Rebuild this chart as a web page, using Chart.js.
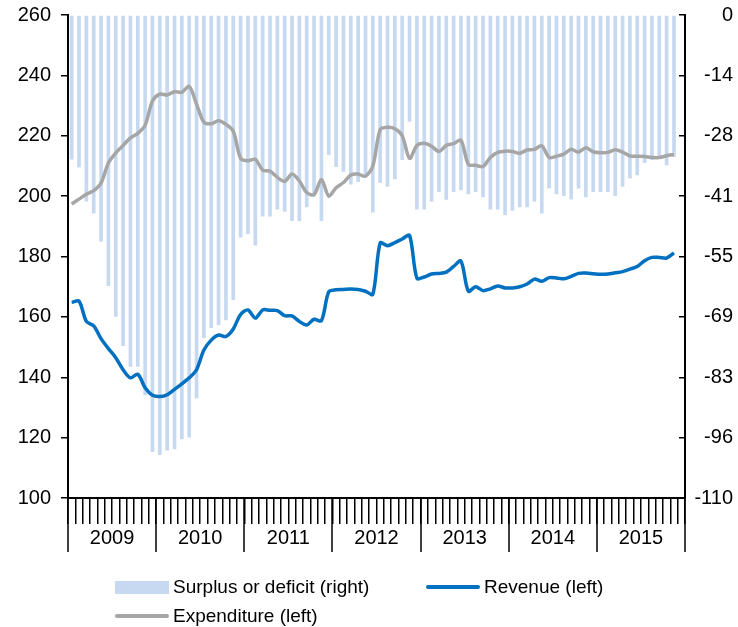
<!DOCTYPE html>
<html>
<head>
<meta charset="utf-8">
<title>Revenue, expenditure and balance</title>
<script src="https://cdn.jsdelivr.net/npm/chart.js@4.4.1/dist/chart.umd.min.js"></script>
<style>
  body { margin: 0; background: #fff; }
  #wrap { position: relative; width: 738px; height: 627px; }
  #legend { position: absolute; left: 0; top: 0; font: 19px Arial, "Liberation Sans", sans-serif; color: #000; }
  #legend .item { position: absolute; height: 24px; display: flex; align-items: center; white-space: nowrap; }
  #legend .swatch { width: 54px; margin-right: 4px; }
</style>
</head>
<body>
<div id="wrap">
  <canvas id="chart" width="738" height="627"></canvas>
  <div id="legend"></div>
</div>
<script>
// ---------------- DATA ----------------

const years = ['2009', '2010', '2011', '2012', '2013', '2014', '2015'];
const monthNames = ['Jan', 'Feb', 'Mar', 'Apr', 'May', 'Jun', 'Jul', 'Aug', 'Sep', 'Oct', 'Nov', 'Dec'];

// monthly, Jan 2009 - Nov 2015
const revenue = [
  164.8, 165.2, 158.5, 157.0, 152.8, 149.5, 146.5, 142.5, 139.8, 141.0, 136.5, 134.0,
  133.6, 134.2, 136.0, 137.8, 139.8, 142.5, 149.0, 152.3, 154.0, 153.5, 156.0, 160.8,
  162.3, 159.6, 162.3, 162.2, 162.1, 160.4, 160.3, 158.5, 157.3, 159.2, 158.7, 168.3,
  169.0, 169.1, 169.2, 169.1, 168.5, 167.5, 184.5, 183.6, 184.6, 185.8, 187.0, 172.8,
  173.2, 174.2, 174.4, 174.8, 176.7, 178.5, 168.5, 170.0, 168.7, 169.3, 170.2, 169.6,
  169.6, 170.0, 170.9, 172.5, 171.8, 173.0, 172.9, 172.6, 173.4, 174.4, 174.5, 174.3,
  174.1, 174.2, 174.6, 175.0, 175.8, 176.7, 178.6, 179.7, 179.7, 179.5, 181.2
];

const expenditure = [
  197.4, 199.0, 200.6, 201.8, 204.3, 211.0, 214.3, 216.8, 219.3, 220.8, 223.5, 231.5,
  233.8, 233.5, 234.6, 234.4, 236.4, 230.5, 224.5, 224.0, 225.0, 223.8, 221.5, 212.5,
  211.7, 212.2, 208.6, 208.3, 206.2, 204.9, 207.3, 205.0, 201.2, 200.5, 205.5, 200.0,
  202.8, 204.5, 207.0, 207.3, 206.6, 210.0, 222.0, 222.8, 222.3, 220.0, 212.5, 216.8,
  217.5, 216.5, 214.8, 216.8, 217.4, 218.5, 210.5, 210.2, 209.8, 212.8, 214.5, 214.9,
  214.8, 214.2, 215.3, 215.5, 216.7, 212.8, 213.2, 213.9, 215.5, 214.6, 216.0, 214.7,
  214.4, 214.5, 215.4, 214.6, 213.3, 213.2, 213.1, 212.8, 212.8, 213.4, 213.8
];

const balance = [
  -32.9, -34.7, -42.5, -45.2, -51.6, -61.7, -68.7, -75.4, -80.1, -80.1, -86.6, -99.5,
  -100.2, -99.2, -98.9, -96.6, -96.2, -87.3, -73.6, -71.3, -70.6, -69.5, -64.9, -50.7,
  -49.9, -52.5, -45.9, -45.9, -44.3, -44.8, -46.9, -46.9, -43.8, -41.2, -46.9, -31.9,
  -34.6, -35.7, -38.6, -38.0, -36.7, -45.0, -38.2, -39.1, -37.4, -33.0, -24.3, -44.3,
  -44.3, -42.5, -40.3, -42.1, -40.3, -39.9, -40.8, -40.3, -41.5, -44.3, -44.3, -45.6,
  -44.6, -43.8, -43.8, -42.5, -45.2, -39.5, -40.8, -41.2, -42.0, -39.5, -41.5, -40.3,
  -40.3, -40.3, -41.2, -39.1, -37.2, -36.5, -33.7, -33.0, -32.3, -34.2, -32.3
];

const months = years.flatMap(y => monthNames.map(m => `${m} ${y}`));

const FONT = { family: 'Arial, "Liberation Sans", sans-serif', size: 20 };

// ---------------- PLUGINS ----------------

// long separators between the years, below the month ticks
const yearDividers = {
    id: 'yearDividers',
    afterDraw(chart) {
        const xs = chart.scales.x;
        const bottom = chart.chartArea.bottom;
        const ctx = chart.ctx;
        ctx.save();
        ctx.strokeStyle = '#000';
        ctx.lineWidth = 1.5;
        ctx.beginPath();
        for (let j = 0; j <= years.length; j++) {
            const px = Math.round(xs.getPixelForValue(j * 12 - 0.5));
            ctx.moveTo(px, bottom);
            ctx.lineTo(px, bottom + 54);
        }
        ctx.stroke();
        ctx.restore();
    }
};

// fixed axis width, and no extra room for the half labels at the ends
function fixWidth(width) {
    return s => {
        s.width = width;
        s.paddingTop = 0;
        s.paddingBottom = 0;
    };
}

// ---------------- CHART ----------------

const chart = new Chart(document.getElementById('chart'), {
    data: {
        labels: months,
        datasets: [
            {
                type: 'bar',
                label: 'Surplus or deficit (right)',
                data: balance,
                yAxisID: 'y1',
                backgroundColor: '#C6D9F1',
                barPercentage: 0.5,
                categoryPercentage: 1,
                order: 2
            },
            {
                type: 'line',
                label: 'Revenue (left)',
                data: revenue,
                yAxisID: 'y',
                borderColor: '#0070C0',
                borderWidth: 3.5,
                pointRadius: 0,
                tension: 0.3,
                order: 0
            },
            {
                type: 'line',
                label: 'Expenditure (left)',
                data: expenditure,
                yAxisID: 'y',
                borderColor: '#A6A6A6',
                borderWidth: 3.5,
                pointRadius: 0,
                tension: 0.3,
                order: 1
            }
        ]
    },
    options: {
        responsive: false,
        animation: false,
        layout: { padding: { left: 0, right: 5, top: 15, bottom: 0 } },
        plugins: {
            legend: { display: false },
            tooltip: { enabled: false }
        },
        scales: {
            x: {
                type: 'category',
                offset: true,
                grid: { offset: true, drawOnChartArea: false, tickLength: 26, color: '#000', lineWidth: 1.5 },
                border: { color: '#000', width: 2 },
                ticks: { display: false },
                afterFit: s => { s.height = 26; }
            },
            years: {
                type: 'category',
                labels: years,
                position: 'bottom',
                offset: true,
                grid: { display: false, drawTicks: false },
                border: { display: false },
                ticks: { color: '#000', font: FONT, padding: 2, autoSkip: false, maxRotation: 0 },
                afterFit: s => { s.height = 103; }
            },
            y: {
                position: 'left',
                min: 100,
                max: 260,
                grid: { drawOnChartArea: false, tickLength: 7, color: '#000', lineWidth: 1.5 },
                border: { color: '#000', width: 2 },
                ticks: { stepSize: 20, padding: 10, color: '#000', font: FONT },
                afterFit: fixWidth(68)
            },
            y1: {
                position: 'right',
                min: -110,
                max: 0,
                // tick marks point into the plot
                grid: { drawOnChartArea: false, tickLength: -6, color: '#000', lineWidth: 1.5 },
                border: { color: '#000', width: 2 },
                ticks: {
                    stepSize: 13.75,
                    crossAlign: 'far',
                    color: '#000',
                    font: FONT,
                    callback: v => -Math.round(-v)
                },
                afterFit: fixWidth(48)
            }
        }
    },
    plugins: [yearDividers]
});

// ---------------- LEGEND ----------------

const legendSlots = [
    { left: 115, top: 575 },
    { left: 426, top: 575 },
    { left: 115, top: 604 }
];

function buildLegend(chart) {
    const box = document.getElementById('legend');
    box.innerHTML = '';
    chart.data.datasets.forEach((ds, i) => {
        const item = document.createElement('div');
        item.className = 'item';
        item.style.left = legendSlots[i].left + 'px';
        item.style.top = legendSlots[i].top + 'px';

        const swatch = document.createElement('span');
        swatch.className = 'swatch';
        if (ds.type === 'bar') {
            swatch.style.height = '13px';
            swatch.style.background = ds.backgroundColor;
        } else {
            swatch.style.height = '4px';
            swatch.style.borderRadius = '2px';
            swatch.style.background = ds.borderColor;
        }

        const text = document.createElement('span');
        text.textContent = ds.label;

        item.appendChild(swatch);
        item.appendChild(text);
        box.appendChild(item);
    });
}

buildLegend(chart);
</script>
</body>
</html>
